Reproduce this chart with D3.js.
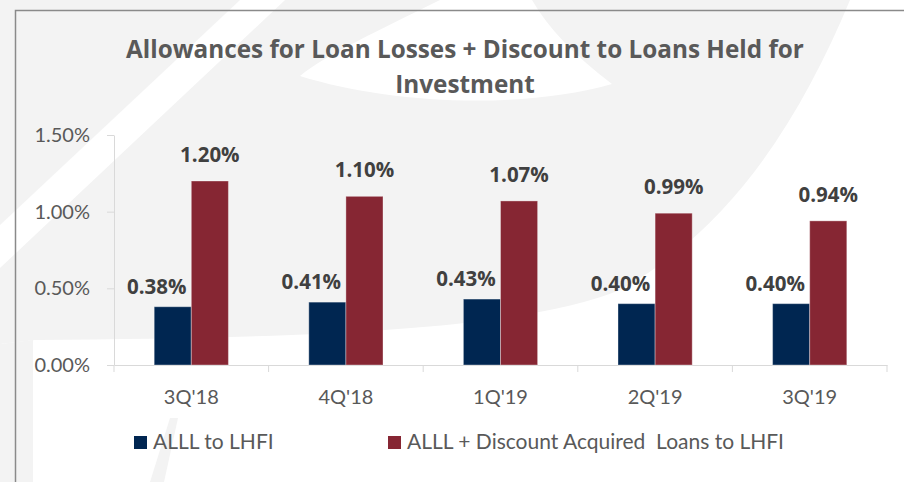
<!DOCTYPE html>
<html>
<head>
<meta charset="utf-8">
<script src="https://cdn.jsdelivr.net/npm/d3@7"></script>
<style>
  body { margin: 0; background: #fff; }
  svg { display: block; font-family: Lato, "Open Sans", sans-serif; }
</style>
</head>
<body>
<svg id="chart" width="904" height="482"></svg>
<script>
// chart data
const categories = ["3Q'18", "4Q'18", "1Q'19", "2Q'19", "3Q'19"];
const seriesNames = ["ALLL to LHFI", "ALLL + Discount Acquired  Loans to LHFI"];
const alllToLhfi = [0.0038, 0.0041, 0.0043, 0.0040, 0.0040];
const alllPlusDiscount = [0.0120, 0.0110, 0.0107, 0.0099, 0.0094];
const yTicks = [0, 0.005, 0.010, 0.015];
const titleLines = ["Allowances for Loan Losses + Discount to Loans Held for", "Investment"];

const colors = ["#002651", "#862633"];
const textGrey = "#595959";
const axisGrey = "#d9d9d9";

const svg = d3.select("#chart");

// faint watermark behind the chart
const wm = svg.append("g").attr("fill", "#f3f3f3");
wm.append("path").attr("d", "M0,0 L240,0 L0,225 Z");
wm.append("path").attr("d",
  "M0,268 L285,0 L440,0 C380,30 325,55 300,76 C390,104 520,110 612,84 C575,56 548,28 532,0 L850,0 " +
  "C800,120 730,230 620,290 C520,330 320,338 35,340 L0,344 Z");
wm.append("path").attr("d", "M0,344 L33,340 L33,482 L0,482 Z");
wm.append("path").attr("d", "M150,482 L164,482 L178,418 L170,418 Z");

// frame
svg.append("path")
  .attr("d", "M904,10.5 L15.5,10.5 L15.5,482")
  .attr("fill", "none")
  .attr("stroke", "#8a8a8a")
  .attr("stroke-width", 1.5);

const margin = {left: 114, right: 887, top: 135, bottom: 365};

const x = d3.scaleBand().domain(categories).range([margin.left, margin.right]);
const bw = x.bandwidth();
const x1 = d3.scaleBand().domain(seriesNames).range([bw * 0.26, bw * 0.74]);
const y = d3.scaleLinear().domain([0, 0.015]).range([margin.bottom, margin.top]);

// title
svg.append("text")
  .attr("x", 465)
  .attr("text-anchor", "middle")
  .attr("font-family", "'Open Sans'")
  .attr("font-weight", "bold")
  .attr("font-size", 24.3)
  .attr("fill", textGrey)
  .selectAll("tspan")
  .data(titleLines)
  .join("tspan")
  .attr("x", 465)
  .attr("y", (d, i) => 58 + i * 35)
  .text(d => d);

// y axis
const yAxis = svg.append("g")
  .attr("transform", `translate(${margin.left},0)`)
  .call(d3.axisLeft(y).tickValues(yTicks).tickFormat(d3.format(".2%")).tickSize(7).tickSizeOuter(0).tickPadding(17));
yAxis.select(".domain").attr("stroke", axisGrey);
yAxis.selectAll(".tick line").attr("stroke", axisGrey);
yAxis.selectAll(".tick text").attr("fill", textGrey).attr("font-size", 20).attr("font-family", "Lato");

// x axis
const xAxis = svg.append("g")
  .attr("transform", `translate(0,${margin.bottom})`)
  .call(d3.axisBottom(x).tickSize(0).tickPadding(25));
xAxis.select(".domain").attr("stroke", axisGrey);
xAxis.selectAll(".tick text").attr("fill", textGrey).attr("font-size", 20).attr("font-family", "Lato");

// category boundary ticks
const bounds = categories.map(c => x(c)).concat([x(categories[categories.length - 1]) + bw]);
svg.append("g").selectAll("line")
  .data(bounds)
  .join("line")
  .attr("x1", d => d).attr("x2", d => d)
  .attr("y1", margin.bottom).attr("y2", margin.bottom + 7)
  .attr("stroke", axisGrey);

// bars
const rows = categories.map((c, i) => ({cat: c, values: [alllToLhfi[i], alllPlusDiscount[i]]}));
const groups = svg.append("g").selectAll("g")
  .data(rows)
  .join("g")
  .attr("transform", d => `translate(${x(d.cat)},0)`);

groups.selectAll("rect")
  .data(d => d.values.map((v, k) => ({v, k})))
  .join("rect")
  .attr("x", d => x1(seriesNames[d.k]))
  .attr("y", d => y(d.v))
  .attr("width", x1.bandwidth())
  .attr("height", d => y(0) - y(d.v))
  .attr("fill", d => colors[d.k])
  .attr("stroke", "rgba(255,255,255,0.35)")
  .attr("stroke-width", 1);

// value labels
groups.selectAll("text")
  .data(d => d.values.map((v, k) => ({v, k})))
  .join("text")
  .attr("x", d => x1(seriesNames[d.k]) + x1.bandwidth() / 2 - (d.k === 0 ? 16 : 0))
  .attr("y", d => y(d.v) - (d.k === 0 ? 13 : 19))
  .attr("text-anchor", "middle")
  .attr("font-family", "'Open Sans'")
  .attr("font-weight", "bold")
  .attr("font-size", 20.5)
  .attr("fill", "#404040")
  .text(d => d3.format(".2%")(d.v));

// legend
const legendX = [134, 388];
const legend = svg.append("g").selectAll("g")
  .data(seriesNames)
  .join("g")
  .attr("transform", (d, i) => `translate(${legendX[i]},436)`);
legend.append("rect")
  .attr("width", 13).attr("height", 13)
  .attr("fill", (d, i) => colors[i]);
legend.append("text")
  .attr("x", 19).attr("y", 13)
  .attr("font-size", 21)
  .attr("fill", textGrey)
  .style("white-space", "pre")
  .text(d => d);
</script>
</body>
</html>
